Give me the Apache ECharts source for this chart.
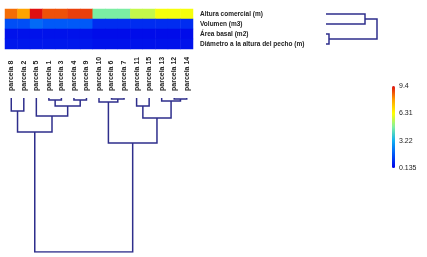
<!DOCTYPE html>
<html>
<head>
<meta charset="utf-8">
<script src="https://cdn.jsdelivr.net/npm/echarts@6/dist/echarts.min.js"></script>
<style>
  html, body { margin: 0; padding: 0; background: #fff; }
  #chart { width: 427px; height: 257px; }
</style>
</head>
<body>
<div id="chart"></div>
<script>
// leaf order of the column dendrogram
const parcelas = ["parcela 8", "parcela 2", "parcela 5", "parcela 1", "parcela 3", "parcela 4", "parcela 9",
  "parcela 10", "parcela 6", "parcela 7", "parcela 11", "parcela 15", "parcela 13", "parcela 12", "parcela 14"];
const variables = ["Altura comercial (m)", "Volumen (m3)", "Área basal (m2)", "Diámetro a la altura del pecho (m)"];

// cell values, one array per variable (same order as parcelas)
const altura = [8.4, 7.8, 9.4, 8.7, 8.7, 8.9, 8.9, 4.7, 4.7, 4.7, 5.6, 5.6, 6.2, 6.2, 6.2];
const volumen = [1.5, 1.5, 2.0, 1.7, 1.7, 1.7, 1.7, 0.9, 0.9, 0.9, 0.9, 0.9, 0.9, 0.9, 0.9];
const areaBasal = [0.45, 0.45, 0.45, 0.45, 0.45, 0.45, 0.45, 0.35, 0.35, 0.35, 0.35, 0.35, 0.35, 0.35, 0.35];
const diametro = [0.55, 0.55, 0.55, 0.55, 0.55, 0.55, 0.55, 0.45, 0.45, 0.45, 0.45, 0.45, 0.45, 0.45, 0.45];

// merges: [left, right, height]; "cN" = cluster made by merge N
const colMerges = [
  ["parcela 8", "parcela 2", 13],
  ["parcela 1", "parcela 3", 2],
  ["parcela 4", "parcela 9", 2],
  ["c1", "c2", 8],
  ["parcela 5", "c3", 18],
  ["c0", "c4", 34],
  ["parcela 6", "parcela 7", 1],
  ["parcela 10", "c6", 4],
  ["parcela 11", "parcela 15", 8],
  ["parcela 12", "parcela 14", 1],
  ["parcela 13", "c9", 3],
  ["c8", "c10", 20],
  ["c7", "c11", 45],
  ["c5", "c12", 154]
];
const rowMerges = [
  ["Altura comercial (m)", "Volumen (m3)", 39],
  ["Área basal (m2)", "Diámetro a la altura del pecho (m)", 3],
  ["c0", "c1", 51]
];

const colorbarTicks = [0.135, 3.22, 6.31, 9.4];
const jet = ["#0000e8", "#0058f8", "#10b0f0", "#80f0a0", "#ffff00", "#ffa000", "#e01010"];

// build dendrogram link paths as [pos, height] polylines
function links(leaves, merges, flip) {
  const nodes = {};
  leaves.forEach((l, i) => { nodes[l] = { pos: i, h: 0 }; });
  const out = [];
  merges.forEach((m, i) => {
    const a = nodes[m[0]], b = nodes[m[1]], h = m[2];
    const pts = [[a.pos, a.h], [a.pos, h], [b.pos, h], [b.pos, b.h]];
    out.push({ coords: flip ? pts.map(p => [p[1], p[0]]) : pts });
    nodes["c" + i] = { pos: (a.pos + b.pos) / 2, h: h };
  });
  return out;
}

const heatData = [];
[altura, volumen, areaBasal, diametro].forEach((arr, r) => {
  arr.forEach((v, c) => heatData.push([c, r, v]));
});

const font = "Liberation Sans";
const lineColor = "#2e2e8c";
const hidden = { show: false };

const chart = echarts.init(document.getElementById("chart"));
chart.setOption({
  animation: false,
  backgroundColor: "#fff",
  grid: [
    { left: 5, top: 9, width: 188, height: 40 },     // heatmap
    { left: 5, top: 98, width: 188, height: 154 },   // column dendrogram
    { left: 326, top: 9, width: 51, height: 40 },    // row dendrogram
    { left: 392, top: 86, width: 3, height: 82 }     // colorbar axis
  ],
  xAxis: [
    { type: "category", gridIndex: 0, data: parcelas, show: false },
    { type: "category", gridIndex: 1, data: parcelas, position: "top",
      axisLine: hidden, axisTick: hidden,
      axisLabel: { rotate: 90, interval: 0, margin: 7, fontSize: 7, fontWeight: "bold",
        fontFamily: font, color: "#222" } },
    { type: "value", gridIndex: 1, min: -0.5, max: 14.5, show: false },
    { type: "value", gridIndex: 2, min: 0, max: 51, show: false },
    { type: "value", gridIndex: 3, show: false }
  ],
  yAxis: [
    { type: "category", gridIndex: 0, data: variables, inverse: true, position: "right",
      axisLine: hidden, axisTick: hidden,
      axisLabel: { margin: 7, fontSize: 6.5, fontWeight: "bold", fontFamily: font, color: "#222" } },
    { type: "value", gridIndex: 1, min: 0, max: 154, inverse: true, show: false },
    { type: "value", gridIndex: 2, min: -0.5, max: 3.5, inverse: true, show: false },
    { type: "value", gridIndex: 3, min: 0.135, max: 9.4, position: "right",
      axisLine: hidden, axisTick: hidden, splitLine: hidden,
      axisLabel: { customValues: colorbarTicks, margin: 4, fontSize: 7, fontFamily: font,
        color: "#222", formatter: v => String(v) } }
  ],
  visualMap: {
    type: "continuous", seriesIndex: 0, min: 0.135, max: 9.4,
    calculable: false, orient: "vertical", left: 392, top: 86, padding: 0,
    itemWidth: 3, itemHeight: 82,
    inRange: { color: jet }
  },
  series: [
    { type: "heatmap", xAxisIndex: 0, yAxisIndex: 0, data: heatData, itemStyle: { borderWidth: 0 } },
    { type: "lines", coordinateSystem: "cartesian2d", xAxisIndex: 2, yAxisIndex: 1, polyline: true,
      data: links(parcelas, colMerges, false), silent: true,
      lineStyle: { color: lineColor, width: 1.5, opacity: 1 } },
    { type: "lines", coordinateSystem: "cartesian2d", xAxisIndex: 3, yAxisIndex: 2, polyline: true,
      data: links(variables, rowMerges, true), silent: true,
      lineStyle: { color: lineColor, width: 1.5, opacity: 1 } }
  ]
});
</script>
</body>
</html>
